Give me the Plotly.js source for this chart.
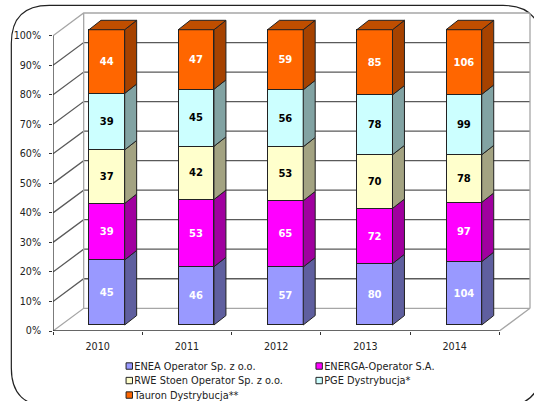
<!DOCTYPE html>
<html><head><meta charset="utf-8">
<script src="https://cdn.plot.ly/plotly-3.0.1.min.js"></script>
<style>html,body{margin:0;padding:0;background:#fff}#c{width:534px;height:401px}</style>
</head><body><div id="c"></div>
<script>
var categories = ['2010','2011','2012','2013','2014'];
var seriesNames = ['ENEA Operator Sp. z o.o.','ENERGA-Operator S.A.','RWE Stoen Operator Sp. z o.o.','PGE Dystrybucja*','Tauron Dystrybucja**'];
var enea = [45,46,57,80,104];
var energa = [39,53,65,72,97];
var rwe = [37,42,53,70,78];
var pge = [39,45,56,78,99];
var tauron = [44,47,59,85,106];
var seriesValues = [enea,energa,rwe,pge,tauron];
var frontColors = ['#9999FF','#FF00FF','#FFFFCC','#CCFFFF','#FF6600'];
var sideColors = ['#5F5F9F','#A0009F','#A3A382','#82A3A3','#A64200'];
var topColor = '#BF4E00';
var labelColors = ['#fff','#fff','#000','#000','#fff'];

// geometry, in pixels of the page
var W=534,H=401,L=52.7,R=499.3,T=36,B=331;
var catPx=(R-L)/categories.length, pctPx=(B-T)/100;
var wallDx=30.7/catPx, wallDy=22.7/pctPx;      // depth of walls, in axis units
var barDx=12/catPx, barDy=9.4/pctPx;           // depth of bars, in axis units
var barStart=0.403, barWidth=0.4, barLift=6/pctPx;
var xMax=5+wallDx+1/catPx, yMax=100+wallDy+1/pctPx;
var plotR=L+xMax*catPx, plotT=B-yMax*pctPx;
var xs=categories.map(function(_,i){return i+0.5;});
var bounds=[0,1,2,3,4,5];
var pcts=[0,10,20,30,40,50,60,70,80,90,100];

var traces=[];
function line(x,y,color,w){traces.push({type:'scatter',mode:'lines',x:x,y:y,xaxis:'x',yaxis:'y',
  line:{color:color,width:w||1.3},hoverinfo:'skip',showlegend:false});}

// back wall, floor, left wall
var GRID='#5a5a5a', EDGE='#a6a6a6', AXIS='#333';
pcts.forEach(function(p){
  if(p>0 && p<100){
    line([0,wallDx,5+wallDx],[p,p+wallDy,p+wallDy],GRID);
  } else if(p===100){
    line([0,wallDx,5+wallDx],[p,p+wallDy,p+wallDy],EDGE);
  }
});
line([0,wallDx,5+wallDx,5],[0,wallDy,wallDy,0],EDGE);
line([wallDx,wallDx],[wallDy,100+wallDy],EDGE);
line([5+wallDx,5+wallDx],[wallDy,100+wallDy],EDGE);
// the two front axis lines stop at 100% and at the last category
line([0,0],[0,100],AXIS);
line([0,5],[0,0],AXIS,1.6);

// stacked front faces: real bars on an overlay axis, normalised to 100%
seriesNames.forEach(function(name,s){
  traces.push({type:'bar',name:name,x:xs,y:seriesValues[s],xaxis:'x',yaxis:'y2',legend:s===0?'legend':'legend'+(s+1),
    offset:barStart-0.5,width:barWidth,
    marker:{color:frontColors[s],line:{color:'#222',width:1}},
    text:seriesValues[s].map(String),textposition:'inside',insidetextanchor:'middle',textangle:0,
    insidetextfont:{family:'DejaVu Sans',size:10,color:labelColors[s],weight:'bold'},
    hoverinfo:'name+y'});
});

// side and top faces, from the same shares
var totals=categories.map(function(_,i){return seriesValues.reduce(function(a,v){return a+v[i];},0);});
seriesNames.forEach(function(name,s){
  var px=[],py=[];
  categories.forEach(function(_,i){
    var lo=0; for(var k=0;k<s;k++) lo+=seriesValues[k][i];
    var hi=lo+seriesValues[s][i];
    lo=lo/totals[i]*100; hi=hi/totals[i]*100;
    var xr=i+barStart+barWidth;
    px.push(xr,xr+barDx,xr+barDx,xr,xr,null);
    py.push(lo,lo+barDy,hi+barDy,hi,lo,null);
  });
  traces.push({type:'scatter',mode:'lines',x:px,y:py,xaxis:'x',yaxis:'y2',fill:'toself',fillcolor:sideColors[s],
    line:{color:'#222',width:1},hoverinfo:'skip',showlegend:false});
});
var tx=[],ty=[];
categories.forEach(function(_,i){
  var xl=i+barStart,xr=xl+barWidth;
  tx.push(xl,xr,xr+barDx,xl+barDx,xl,null);
  ty.push(100,100,100+barDy,100+barDy,100,null);
});
traces.push({type:'scatter',mode:'lines',x:tx,y:ty,xaxis:'x',yaxis:'y2',fill:'toself',fillcolor:topColor,
  line:{color:'#222',width:1},hoverinfo:'skip',showlegend:false});

// outer rounded frame, written in page pixels
function fx(x){return (x-L)/(plotR-L);} function fy(y){return (B-y)/(B-plotT);}
var fl=11,ft=5.7,fr=541,fb=406,rad=38;
var frame='M'+fx(fl)+','+fy(ft+rad)+' Q'+fx(fl)+','+fy(ft)+' '+fx(fl+rad)+','+fy(ft)+
  ' L'+fx(fr-rad)+','+fy(ft)+' Q'+fx(fr)+','+fy(ft)+' '+fx(fr)+','+fy(ft+rad)+
  ' L'+fx(fr)+','+fy(fb-rad)+' Q'+fx(fr)+','+fy(fb)+' '+fx(fr-rad)+','+fy(fb)+
  ' L'+fx(fl+rad)+','+fy(fb)+' Q'+fx(fl)+','+fy(fb)+' '+fx(fl)+','+fy(fb-rad)+' Z';

var font={family:'DejaVu Sans',size:9.6,color:'#222'};
var legendFont={family:'DejaVu Sans',size:9.8,color:'#222'};
var layout={width:W,height:H,margin:{l:L,r:W-plotR,t:plotT,b:H-B,autoexpand:false},paper_bgcolor:'#fff',plot_bgcolor:'rgba(0,0,0,0)',
  font:font,barmode:'stack',barnorm:'percent',showlegend:true,
  xaxis:{type:'linear',range:[0,xMax],tickmode:'array',tickvals:xs,ticktext:categories,ticks:'',ticklen:0,ticklabelstandoff:8,showgrid:false,zeroline:false,
    showline:false,tickfont:font,fixedrange:true,
    minor:{tickmode:'array',tickvals:bounds,ticks:'outside',ticklen:3,tickcolor:AXIS,tickwidth:1.2,showgrid:false}},
  yaxis:{range:[0,yMax],tickmode:'array',tickvals:pcts,ticktext:pcts.map(function(p){return p+'%';}),ticks:'outside',ticklen:3,tickcolor:AXIS,tickwidth:1.2,
    ticklabelstandoff:6,showgrid:false,zeroline:false,showline:false,tickfont:font,fixedrange:true},
  yaxis2:{overlaying:'y',range:[-barLift,yMax-barLift],visible:false,fixedrange:true},
  shapes:[{type:'path',xref:'paper',yref:'paper',path:frame,line:{color:'#222',width:1.2},fillcolor:'rgba(0,0,0,0)',layer:'below'}]
};
// one single-entry legend per key, placed on the reference's two columns and three rows
var legendCol=[94,284,94,284,94], legendRow=[366,366,380.5,380.5,395];
seriesNames.forEach(function(_,s){
  layout[s===0?'legend':'legend'+(s+1)]={x:fx(legendCol[s]),xanchor:'left',y:fy(legendRow[s]),yanchor:'middle',
    bgcolor:'rgba(0,0,0,0)',font:legendFont,itemclick:false,itemdoubleclick:false};
});

// compact legend keys: small squares close to their text (re-applied whenever the legend redraws)
function compactKeys(gd){
  gd.querySelectorAll('.legendpoints path').forEach(function(p){
    if(p.getAttribute('d')!=='M3.2,3.2H-3.2V-3.2H3.2Z') p.setAttribute('d','M3.2,3.2H-3.2V-3.2H3.2Z');
    if(p.getAttribute('transform')!=='translate(35,0)') p.setAttribute('transform','translate(35,0)');
  });
}
var gdEl=document.getElementById('c');
new MutationObserver(function(){compactKeys(gdEl);}).observe(gdEl,{childList:true,subtree:true,attributes:true,attributeFilter:['d','transform']});
Plotly.newPlot('c',traces,layout,{displayModeBar:false}).then(function(gd){compactKeys(gd);});
</script></body></html>
